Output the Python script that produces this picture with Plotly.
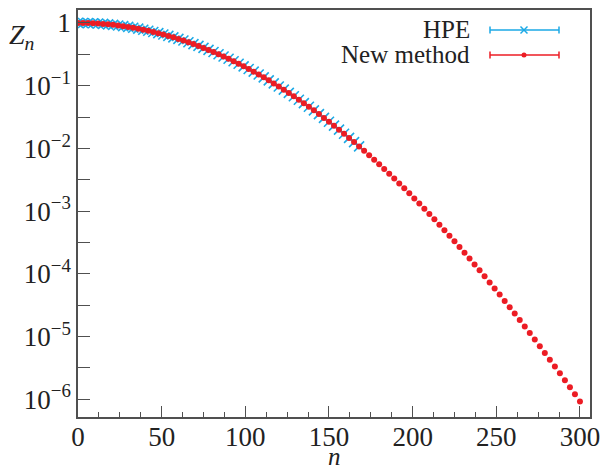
import plotly.graph_objects as go

# ---- data ----
n_new = list(range(0, 301, 3))
log10_z_new = [
    0.000, -0.001, -0.003, -0.006, -0.010, -0.016, -0.023, -0.031, -0.041, -0.052,
    -0.064, -0.077, -0.092, -0.108, -0.125, -0.144, -0.163, -0.184, -0.207, -0.230,
    -0.255, -0.281, -0.308, -0.337, -0.367, -0.398, -0.430, -0.464, -0.499, -0.535,
    -0.572, -0.611, -0.651, -0.692, -0.734, -0.777, -0.822, -0.868, -0.915, -0.964,
    -1.013, -1.064, -1.116, -1.169, -1.224, -1.279, -1.336, -1.394, -1.453, -1.514,
    -1.575, -1.638, -1.702, -1.767, -1.833, -1.900, -1.969, -2.039, -2.109, -2.181,
    -2.254, -2.328, -2.404, -2.480, -2.558, -2.636, -2.716, -2.797, -2.879, -2.962,
    -3.046, -3.131, -3.217, -3.304, -3.392, -3.482, -3.572, -3.663, -3.756, -3.849,
    -3.944, -4.039, -4.136, -4.233, -4.331, -4.431, -4.531, -4.632, -4.735, -4.838,
    -4.942, -5.047, -5.153, -5.260, -5.368, -5.477, -5.586, -5.697, -5.808, -5.920,
    -6.034,
]
n_hpe = list(range(0, 169, 3))
log10_z_hpe = [
    0.000, -0.001, -0.003, -0.006, -0.010, -0.016, -0.023, -0.031, -0.041, -0.052,
    -0.064, -0.077, -0.092, -0.108, -0.125, -0.144, -0.163, -0.184, -0.207, -0.230,
    -0.255, -0.281, -0.308, -0.337, -0.367, -0.398, -0.430, -0.464, -0.499, -0.535,
    -0.572, -0.611, -0.651, -0.692, -0.734, -0.777, -0.822, -0.868, -0.915, -0.964,
    -1.013, -1.064, -1.116, -1.169, -1.224, -1.279, -1.336, -1.394, -1.453, -1.514,
    -1.575, -1.638, -1.702, -1.767, -1.833, -1.900, -1.969,
]
z_new = [10 ** v for v in log10_z_new]
z_hpe = [10 ** v for v in log10_z_hpe]

y_decades = [0, -1, -2, -3, -4, -5, -6]
y_labels = ["1", "10<sup>\u22121</sup>", "10<sup>\u22122</sup>", "10<sup>\u22123</sup>",
            "10<sup>\u22124</sup>", "10<sup>\u22125</sup>", "10<sup>\u22126</sup>"]
legend_names = ["HPE", "New method"]

BLUE = "#1BA9E6"
RED = "#EC1C24"
AX = "#505050"
TXT = "#222222"
FONT = "Liberation Serif"

# ticks every half decade, labels every decade
tickvals, ticktext = [], []
for d, lab in zip(y_decades, y_labels):
    tickvals.append(10 ** d)
    ticktext.append(lab)
    if d > -6:
        tickvals.append(10 ** (d - 0.5))
        ticktext.append("")

fig = go.Figure()
fig.add_trace(go.Scatter(
    x=n_hpe, y=z_hpe, mode="markers", name=legend_names[0],
    marker=dict(symbol="x-thin", size=10, color=BLUE, line=dict(color=BLUE, width=1.6)),
    showlegend=False,
))
fig.add_trace(go.Scatter(
    x=n_new, y=z_new, mode="markers", name=legend_names[1],
    marker=dict(symbol="circle", size=6, color=RED, line=dict(width=0)),
    showlegend=False,
))

fig.update_layout(
    width=603, height=473,
    margin=dict(l=78, r=13, t=10, b=56, autoexpand=False),
    paper_bgcolor="white", plot_bgcolor="white",
    font=dict(family=FONT, size=26, color=TXT),
    xaxis=dict(
        range=[0, 306], showgrid=False, zeroline=False, automargin=False,
        showline=True, linecolor=AX, linewidth=1.5, mirror=True,
        ticks="inside", ticklen=11, tickwidth=1.3, tickcolor=AX,
        tick0=0, dtick=50, ticklabelstandoff=-5,
        minor=dict(dtick=12.5, ticks="inside", ticklen=5, tickwidth=1.1, tickcolor=AX),
        tickfont=dict(family=FONT, size=27, color=TXT),
    ),
    yaxis=dict(
        type="log", range=[-6.282, 0.206], showgrid=False, zeroline=False, automargin=False,
        showline=True, linecolor=AX, linewidth=1.5, mirror=True,
        ticks="inside", ticklen=12, tickwidth=1.3, tickcolor=AX,
        tickmode="array", tickvals=tickvals, ticktext=ticktext,
        tickfont=dict(family=FONT, size=27, color=TXT),
    ),
)

# axis titles
fig.add_annotation(text="<i>Z</i><sub><i>n</i></sub>", xref="paper", yref="paper",
                   x=-0.082, y=0.935, showarrow=False, xanchor="right", yanchor="middle",
                   font=dict(family=FONT, size=28, color=TXT))
fig.add_annotation(text="<i>n</i>", xref="paper", yref="paper",
                   x=0.5, y=1 - (457 - 10) / 407, showarrow=False,
                   xanchor="center", yanchor="middle",
                   font=dict(family=FONT, size=25, color=TXT))

# legend (drawn by hand, gnuplot style with error-bar samples)
def px_x(px):
    return (px - 78) / (590 - 78)

def px_y(py):
    return 1 - (py - 10) / (417 - 10)

for name, col, py in [(legend_names[0], BLUE, 30), (legend_names[1], RED, 55)]:
    fig.add_annotation(text=name, xref="paper", yref="paper", x=px_x(472), y=px_y(py),
                       showarrow=False, xanchor="right", yanchor="middle",
                       font=dict(family=FONT, size=25, color=TXT))
    fig.add_shape(type="line", xref="paper", yref="paper",
                  x0=px_x(490), x1=px_x(559), y0=px_y(py), y1=px_y(py),
                  line=dict(color=col, width=1.5))
    for cx in (490, 559):
        fig.add_shape(type="line", xref="paper", yref="paper",
                      x0=px_x(cx), x1=px_x(cx), y0=px_y(py - 3.5), y1=px_y(py + 3.5),
                      line=dict(color=col, width=1.5))

# legend sample symbols
fig.add_shape(type="line", xref="paper", yref="paper",
              x0=px_x(520.5), x1=px_x(527.5), y0=px_y(26.5), y1=px_y(33.5),
              line=dict(color=BLUE, width=1.5))
fig.add_shape(type="line", xref="paper", yref="paper",
              x0=px_x(520.5), x1=px_x(527.5), y0=px_y(33.5), y1=px_y(26.5),
              line=dict(color=BLUE, width=1.5))
fig.add_shape(type="circle", xref="paper", yref="paper",
              x0=px_x(521.5), x1=px_x(526.5), y0=px_y(52.5), y1=px_y(57.5),
              fillcolor=RED, line=dict(color=RED, width=0))

fig.write_html("out.html", config={"displayModeBar": False},
               post_script="document.body.style.margin='0';document.body.style.padding='0';")
